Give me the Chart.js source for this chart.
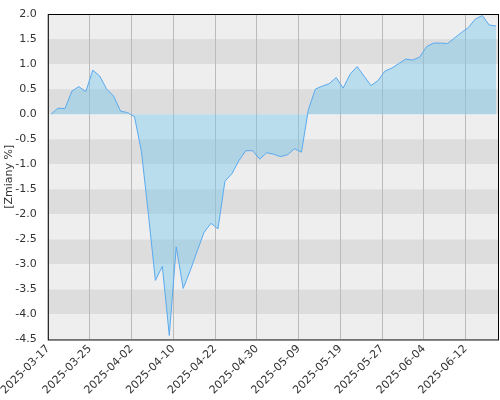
<!DOCTYPE html><html><head><script src="https://cdn.jsdelivr.net/npm/chart.js@4"></script>
<style>body{margin:0;background:#fff}#w{width:500px;height:400px}</style></head><body><div id="w"><canvas id="c"></canvas></div>
<script>
const values=[0,0.12,0.11,0.46,0.55,0.45,0.88,0.76,0.50,0.36,0.06,0.03,-0.05,-0.75,-2.0,-3.32,-3.04,-4.42,-2.65,-3.48,-3.13,-2.74,-2.36,-2.18,-2.29,-1.34,-1.19,-0.93,-0.73,-0.73,-0.90,-0.77,-0.80,-0.85,-0.81,-0.69,-0.76,0.09,0.50,0.56,0.61,0.73,0.52,0.80,0.95,0.76,0.57,0.67,0.86,0.92,1.01,1.10,1.08,1.14,1.35,1.42,1.42,1.41,1.52,1.63,1.73,1.90,1.97,1.78,1.76];
const tickLabels=['2025-03-17','2025-03-25','2025-04-02','2025-04-10','2025-04-22','2025-04-30','2025-05-09','2025-05-19','2025-05-27','2025-06-04','2025-06-12'];
const tickPos=[-0.4,5.6,11.6,17.6,23.6,29.6,35.6,41.6,47.6,53.6,59.6];
const pts=values.map((v,i)=>({x:i,y:v}));
const bands={id:'bands',beforeDraw(ch){const {ctx,chartArea:a,scales:{y}}=ch;ctx.save();
for(let v=2;v>-4.5;v-=0.5){const t=y.getPixelForValue(v),b=y.getPixelForValue(v-0.5);const k=Math.round((2-v)/0.5);ctx.fillStyle=k%2?'#dddddd':'#eeeeee';ctx.fillRect(a.left,t,a.right-a.left,b-t);}ctx.restore();},
afterDraw(ch){const {ctx,chartArea:a}=ch;ctx.save();ctx.strokeStyle='#000';ctx.lineWidth=1;ctx.strokeRect(a.left+0.5,a.top+0.5,a.right-a.left-1,a.bottom-a.top);ctx.restore();}};
new Chart(document.getElementById('c'),{type:'line',data:{datasets:[{data:pts,borderColor:'#5aaaf0',borderWidth:1,backgroundColor:'rgba(120,200,235,0.45)',fill:'origin',pointRadius:0,tension:0}]},
options:{responsive:true,maintainAspectRatio:false,animation:false,layout:{padding:{top:14,right:1,left:0,bottom:0}},
plugins:{legend:{display:false},tooltip:{enabled:false}},
scales:{x:{type:'linear',min:-0.47,max:64.4,afterBuildTicks(s){s.ticks=tickPos.map(v=>({value:v}));},
ticks:{autoSkip:false,maxRotation:45,minRotation:45,color:'#333',font:{size:11,family:'DejaVu Sans'},callback:(v,i)=>tickLabels[i]},
grid:{color:'#bbbbbb',drawTicks:false},border:{display:false}},
y:{min:-4.5,max:2,afterFit(s){s.width=45},ticks:{stepSize:0.5,color:'#333',font:{size:11,family:'DejaVu Sans'},callback:v=>v.toFixed(1)},
grid:{display:false},border:{display:false},title:{display:true,text:'[Zmiany %]',color:'#333',font:{size:11,family:'DejaVu Sans'},padding:0}}}},
plugins:[bands]});
</script></body></html>
